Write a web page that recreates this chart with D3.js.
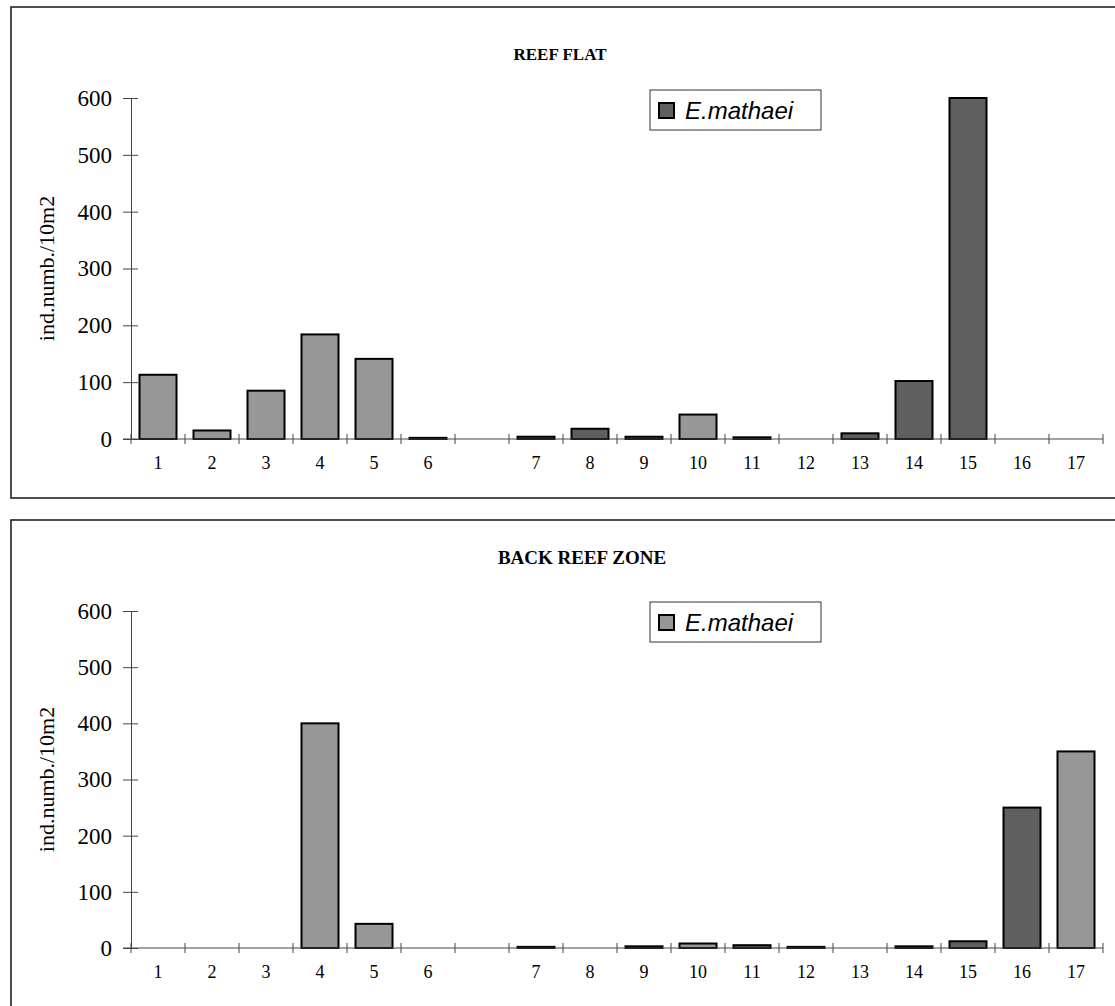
<!DOCTYPE html>
<html>
<head>
<meta charset="utf-8">
<script src="https://cdn.jsdelivr.net/npm/d3@7"></script>
<style>
  html, body { margin: 0; padding: 0; background: #fff; }
  svg { display: block; }
</style>
</head>
<body>
<svg id="chart" width="1115" height="1006"></svg>
<script>
// ---- data ----
const slotKeys   = ["1","2","3","4","5","6","gap","7","8","9","10","11","12","13","14","15","16","17"];
const slotLabels = ["1","2","3","4","5","6","","7","8","9","10","11","12","13","14","15","16","17"];
const yTicks = [0, 100, 200, 300, 400, 500, 600];

const reefFlatValues = [113, 15, 85, 184, 141, 2, null, 4, 18, 4, 43, 3, 0, 10, 102, 600, 0, 0];
const reefFlatShade  = ["L","L","L","L","L","L", null, "D","D","D","L","D", null, "D","D","D", null, null];

const backReefValues = [0, 0, 0, 400, 43, 0, null, 2, 0, 3, 8, 5, 2, 0, 3, 12, 250, 350];
const backReefShade  = [null, null, null, "L","L", null, null, "D", null, "D","L","D","D", null, "D","D","D","L"];

const panelTitles  = ["REEF FLAT", "BACK REEF ZONE"];
const legendShade  = ["D", "L"];
const seriesName   = "E.mathaei";
const yTitle       = "ind.numb./10m2";

const shadeColor = { L: "#979797", D: "#5f5f5f" };

const svg = d3.select("#chart");

function drawPanel(cfg) {
  const g = svg.append("g").attr("transform", `translate(0,${cfg.top})`);

  // frame
  g.append("rect")
    .attr("x", 11).attr("y", 0)
    .attr("width", 1130).attr("height", cfg.frameH)
    .attr("fill", "none").attr("stroke", "#222").attr("stroke-width", 1.6);

  const x = d3.scaleBand().domain(slotKeys).range([131, 1103]).paddingInner(0).paddingOuter(0);
  const y = d3.scaleLinear().domain([0, 600]).range([cfg.plotBottom, cfg.plotTop]);

  // title
  g.append("text")
    .attr("x", cfg.titleX).attr("y", cfg.titleY)
    .attr("text-anchor", "middle")
    .attr("font-family", "'Liberation Serif', 'Times New Roman', serif")
    .attr("font-weight", "bold").attr("font-size", cfg.titleSize)
    .text(cfg.title);

  // y axis
  const yAxis = d3.axisLeft(y).tickValues(yTicks).tickSize(0).tickPadding(19);
  const ya = g.append("g").attr("transform", "translate(131,0)").call(yAxis);
  ya.select(".domain").attr("stroke", "#444").attr("stroke-width", 1);
  ya.selectAll("text")
    .attr("font-family", "'Liberation Serif', 'Times New Roman', serif")
    .attr("font-size", 23).attr("fill", "#000");
  ya.selectAll(".tick").append("line")
    .attr("x1", -8).attr("x2", 7).attr("y1", 0).attr("y2", 0)
    .attr("stroke", "#444").attr("stroke-width", 1);

  // y title
  g.append("text")
    .attr("transform", `translate(54,${(cfg.plotTop + cfg.plotBottom) / 2}) rotate(-90)`)
    .attr("text-anchor", "middle")
    .attr("font-family", "'Liberation Serif', 'Times New Roman', serif")
    .attr("font-size", 22)
    .text(yTitle);

  // bars
  const bw = 37;
  const barData = slotKeys.map((k, i) => ({ k, v: cfg.values[i], s: cfg.shades[i] }))
    .filter(d => d.v !== null && d.s !== null && d.v > 0);
  g.selectAll("rect.bar").data(barData).enter().append("rect")
    .attr("class", "bar")
    .attr("x", d => x(d.k) + (x.bandwidth() - bw) / 2)
    .attr("width", bw)
    .attr("y", d => y(d.v))
    .attr("height", d => Math.max(0, y(0) - y(d.v)))
    .attr("fill", d => shadeColor[d.s])
    .attr("stroke", "#000").attr("stroke-width", 2);

  // x axis line
  g.append("line")
    .attr("x1", 123).attr("x2", 1103)
    .attr("y1", y(0)).attr("y2", y(0))
    .attr("stroke", "#444").attr("stroke-width", 1);
  // x ticks at slot boundaries
  const bounds = slotKeys.map(k => x(k)).concat([x(slotKeys[slotKeys.length - 1]) + x.bandwidth()]);
  g.selectAll("line.xt").data(bounds).enter().append("line")
    .attr("class", "xt")
    .attr("x1", d => d).attr("x2", d => d)
    .attr("y1", y(0) - 5).attr("y2", y(0) + 5)
    .attr("stroke", "#444").attr("stroke-width", 1);
  // x labels
  g.selectAll("text.xl").data(slotKeys).enter().append("text")
    .attr("class", "xl")
    .attr("x", d => x(d) + x.bandwidth() / 2)
    .attr("y", y(0) + 30)
    .attr("text-anchor", "middle")
    .attr("font-family", "'Liberation Serif', 'Times New Roman', serif")
    .attr("font-size", 18)
    .text((d, i) => slotLabels[i]);

  // legend
  const lg = g.append("g").attr("transform", `translate(650,${cfg.legendY})`);
  lg.append("rect").attr("width", 171).attr("height", 40)
    .attr("fill", "#fff").attr("stroke", "#333").attr("stroke-width", 1);
  lg.append("rect").attr("x", 9).attr("y", 13).attr("width", 15).attr("height", 15)
    .attr("fill", shadeColor[cfg.legendShade]).attr("stroke", "#000").attr("stroke-width", 2);
  lg.append("text").attr("x", 35).attr("y", 29)
    .attr("font-family", "'Liberation Sans', Arial, sans-serif")
    .attr("font-style", "italic").attr("font-size", 24)
    .text(seriesName);
}

drawPanel({ top: 7, frameH: 491, plotTop: 91, plotBottom: 432, titleX: 560, titleY: 53, titleSize: 17,
            title: panelTitles[0], values: reefFlatValues, shades: reefFlatShade,
            legendShade: legendShade[0], legendY: 83 });
drawPanel({ top: 520, frameH: 491, plotTop: 91, plotBottom: 428, titleX: 582, titleY: 44, titleSize: 19,
            title: panelTitles[1], values: backReefValues, shades: backReefShade,
            legendShade: legendShade[1], legendY: 82 });
</script>
</body>
</html>
